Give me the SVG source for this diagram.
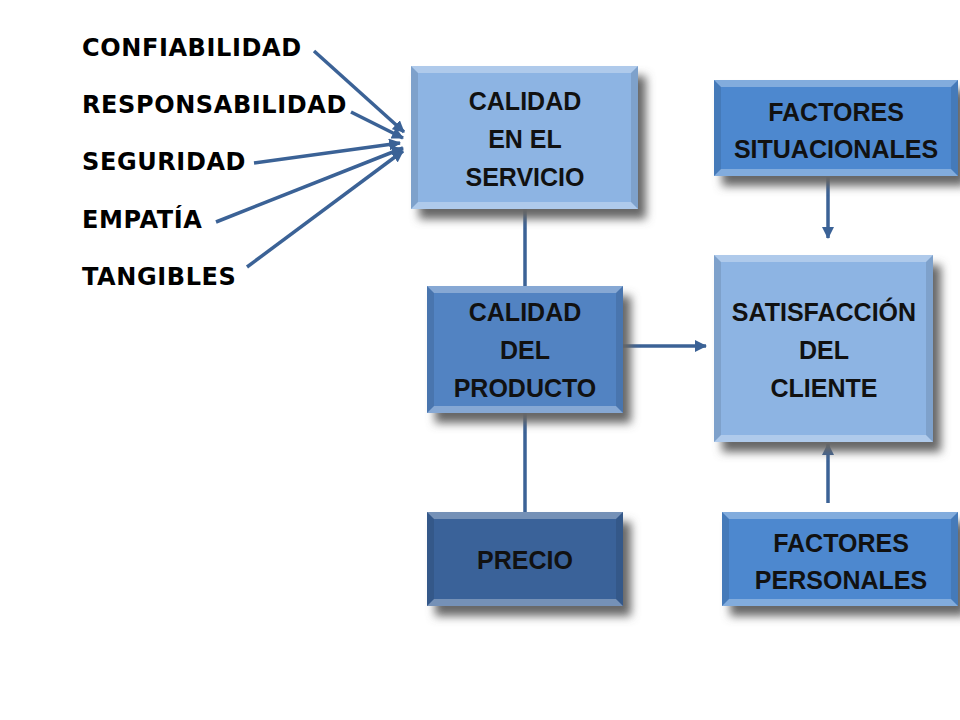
<svg xmlns="http://www.w3.org/2000/svg" width="960" height="720" viewBox="0 0 960 720">
<defs>
<style>
.lbl{font-family:"DejaVu Sans",Verdana,sans-serif;font-weight:bold;font-size:24px;letter-spacing:0.6px;fill:#000}
.bt{font-family:"Liberation Sans",Arial,sans-serif;font-weight:bold;font-size:25px;fill:#111;text-anchor:middle}
.con{stroke:#3b6296;stroke-width:3.5;fill:none}
.hi{fill:#fff;opacity:0.3}
.lo{fill:#000;opacity:0.1}
.sh{fill:#666;filter:url(#blur)}
</style>
<filter id="blur" x="-20%" y="-20%" width="140%" height="140%"><feGaussianBlur stdDeviation="5"/></filter>
<marker id="ah" viewBox="0 0 12 12" markerWidth="12" markerHeight="12" refX="11" refY="6" orient="auto" markerUnits="userSpaceOnUse">
<path d="M0,0 L12,6 L0,12 z" fill="#3b6296"/>
</marker>
</defs>
<rect width="960" height="720" fill="#fff"/>

<g id="connectors">
<line class="con" x1="525" y1="209" x2="525" y2="286"/>
<line class="con" x1="525" y1="413" x2="525" y2="512"/>
<line class="con" x1="623" y1="346" x2="706" y2="346" marker-end="url(#ah)"/>
<line class="con" x1="828" y1="177" x2="828" y2="238" marker-end="url(#ah)"/>
<line class="con" x1="828" y1="503" x2="828" y2="444" marker-end="url(#ah)"/>
<line class="con" x1="314" y1="51" x2="404" y2="132" marker-end="url(#ah)"/>
<line class="con" x1="351" y1="112" x2="403" y2="138" marker-end="url(#ah)"/>
<line class="con" x1="254" y1="163" x2="400" y2="143" marker-end="url(#ah)"/>
<line class="con" x1="216" y1="222" x2="403" y2="148" marker-end="url(#ah)"/>
<line class="con" x1="247" y1="267" x2="403" y2="151" marker-end="url(#ah)"/>
</g>

<g id="labels">
<text class="lbl" x="82" y="56">CONFIABILIDAD</text>
<text class="lbl" x="82" y="113">RESPONSABILIDAD</text>
<text class="lbl" x="82" y="170">SEGURIDAD</text>
<text class="lbl" x="82" y="228">EMPATÍA</text>
<text class="lbl" x="82" y="285">TANGIBLES</text>
</g>

<g id="calidad-servicio">
<rect class="sh" x="419" y="76" width="227" height="143"/>
<rect x="411" y="66" width="227" height="143" fill="#8db4e3"/>
<polygon class="hi" points="411,66 638,66 631,73 418,73"/>
<polygon class="hi" points="411,209 638,209 631,202 418,202"/>
<polygon class="lo" points="411,66 418,73 418,202 411,209"/>
<polygon class="lo" points="638,66 631,73 631,202 638,209"/>
<text class="bt" x="525" y="110">CALIDAD</text>
<text class="bt" x="525" y="148">EN EL</text>
<text class="bt" x="525" y="186">SERVICIO</text>
</g>

<g id="calidad-producto">
<rect class="sh" x="435" y="296" width="196" height="127"/>
<rect x="427" y="286" width="196" height="127" fill="#5283c2"/>
<polygon class="hi" points="427,286 623,286 616,293 434,293"/>
<polygon class="hi" points="427,413 623,413 616,406 434,406"/>
<polygon class="lo" points="427,286 434,293 434,406 427,413"/>
<polygon class="lo" points="623,286 616,293 616,406 623,413"/>
<text class="bt" x="525" y="321">CALIDAD</text>
<text class="bt" x="525" y="359">DEL</text>
<text class="bt" x="525" y="397">PRODUCTO</text>
</g>

<g id="precio">
<rect class="sh" x="435" y="522" width="196" height="94"/>
<rect x="427" y="512" width="196" height="94" fill="#3a6299"/>
<polygon class="hi" points="427,512 623,512 616,519 434,519"/>
<polygon class="hi" points="427,606 623,606 616,599 434,599"/>
<polygon class="lo" points="427,512 434,519 434,599 427,606"/>
<polygon class="lo" points="623,512 616,519 616,599 623,606"/>
<text class="bt" x="525" y="569">PRECIO</text>
</g>

<g id="factores-situacionales">
<rect class="sh" x="722" y="90" width="244" height="96"/>
<rect x="714" y="80" width="244" height="96" fill="#4d88cf"/>
<polygon class="hi" points="714,80 958,80 951,87 721,87"/>
<polygon class="hi" points="714,176 958,176 951,169 721,169"/>
<polygon class="lo" points="714,80 721,87 721,169 714,176"/>
<polygon class="lo" points="958,80 951,87 951,169 958,176"/>
<text class="bt" x="836" y="121">FACTORES</text>
<text class="bt" x="836" y="158">SITUACIONALES</text>
</g>

<g id="satisfaccion">
<rect class="sh" x="722" y="265" width="219" height="187"/>
<rect x="714" y="255" width="219" height="187" fill="#8db4e3"/>
<polygon class="hi" points="714,255 933,255 926,262 721,262"/>
<polygon class="hi" points="714,442 933,442 926,435 721,435"/>
<polygon class="lo" points="714,255 721,262 721,435 714,442"/>
<polygon class="lo" points="933,255 926,262 926,435 933,442"/>
<text class="bt" x="824" y="321">SATISFACCIÓN</text>
<text class="bt" x="824" y="359">DEL</text>
<text class="bt" x="824" y="397">CLIENTE</text>
</g>

<g id="factores-personales">
<rect class="sh" x="730" y="522" width="236" height="94"/>
<rect x="722" y="512" width="236" height="94" fill="#4d88cf"/>
<polygon class="hi" points="722,512 958,512 951,519 729,519"/>
<polygon class="hi" points="722,606 958,606 951,599 729,599"/>
<polygon class="lo" points="722,512 729,519 729,599 722,606"/>
<polygon class="lo" points="958,512 951,519 951,599 958,606"/>
<text class="bt" x="841" y="552">FACTORES</text>
<text class="bt" x="841" y="589">PERSONALES</text>
</g>
</svg>
